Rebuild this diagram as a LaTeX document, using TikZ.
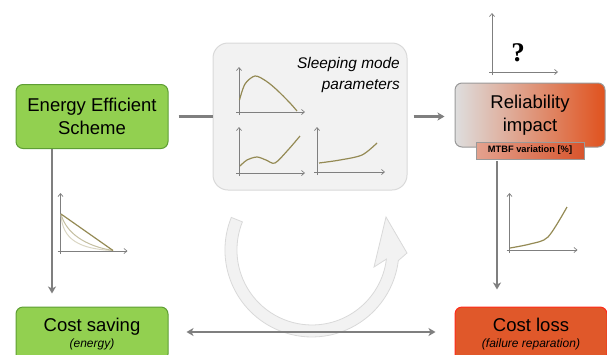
\documentclass[tikz,border=0pt]{standalone}
\usepackage{fontspec}
\setmainfont{Liberation Sans}
\newfontfamily\qmarkfont{Liberation Serif}
\usetikzlibrary{arrows.meta}
\definecolor{leafgreen}{HTML}{92D050}
\definecolor{leafedge}{HTML}{5E9E34}
\definecolor{brick}{HTML}{E0582A}
\definecolor{brickedge}{HTML}{FF2A1A}
\definecolor{linkgray}{HTML}{7F7F7F}
\definecolor{plotline}{HTML}{948A54}
\definecolor{panel}{HTML}{F2F2F2}
\definecolor{paneledge}{HTML}{D9D9D9}
\definecolor{relleft}{HTML}{DEDEDE}
\definecolor{relright}{HTML}{E0521E}
\definecolor{mtbfleft}{HTML}{E3A28F}
\definecolor{mtbfright}{HTML}{D8542C}
\newcommand{\smallnote}{\fontsize{12}{14}\selectfont\itshape}
\newcommand{\miniaxes}[4]{% origin x, origin y, width, height
  \draw[axis] (#1,{#2+3}) -- (#1,{#2-#4});
  \draw[axis] ({#1-3},#2) -- ({#1+#3},#2);}

\begin{document}
\begin{tikzpicture}[
  x=1pt,y=-1pt,>={Stealth[length=7pt,width=8pt,inset=2pt]},
  box/.style={draw,line width=1pt,rounded corners=7pt,align=center,
    font=\fontsize{18.5}{23}\selectfont,inner sep=2pt},
  greenbox/.style={box,fill=leafgreen,draw=leafedge,minimum width=152pt,minimum height=64pt},
  footbox/.style={box,minimum width=152pt,minimum height=54pt,font=\fontsize{18.5}{16}\selectfont},
  relbox/.style={box,draw=linkgray!80,left color=relleft,right color=relright,
    minimum width=150pt,minimum height=64pt},
  mtbfbox/.style={draw=linkgray!80,line width=0.8pt,left color=mtbfleft,right color=mtbfright,
    minimum width=108pt,minimum height=17pt,inner sep=0pt,font=\fontsize{9.3}{11}\selectfont\bfseries},
  panelbox/.style={draw=paneledge,fill=panel,line width=1pt,rounded corners=15pt,
    minimum width=194pt,minimum height=147pt},
  link/.style={draw=linkgray,line width=2.1pt},
  axis/.style={draw=linkgray,line width=0.7pt,-{Straight Barb[length=3pt,width=5pt]}},
  curve/.style={draw=plotline,line width=1.2pt},
  faint/.style={draw=plotline!35,line width=1pt},
  cyclearrow/.style={draw=paneledge,fill=panel,line width=0.8pt}
]
\useasboundingbox (0,0) rectangle (607,354);
\clip (0,0) rectangle (607,354);

% boxes
\node[greenbox] (ees) at (92,116.5) {Energy Efficient\\Scheme};
\node[panelbox] (sleep) at (310,116.5) {};
\node[font=\fontsize{15.4}{21.5}\selectfont\itshape,align=right,anchor=north east,inner sep=0pt]
  (sleeptitle) at (400,57) {Sleeping mode\\parameters};
\node[relbox] (rel) at (530,115) {Reliability\\impact};
\node[mtbfbox] (mtbf) at (530,150.5) {MTBF variation [\%]};
\node[footbox,fill=leafgreen,draw=leafedge] (saving) at (92,334) {Cost saving\\{\smallnote(energy)}};
\node[footbox,fill=brick,draw=brickedge] (loss) at (531,334) {Cost loss\\{\smallnote(failure reparation)}};
\node[font=\qmarkfont\bfseries\fontsize{27}{30}\selectfont,inner sep=0pt] (qmark) at (518,53) {?};

% sleeping mode plots
\miniaxes{239}{112}{66}{45}
\draw[curve] plot[smooth] coordinates {(239.5,100) (245,84) (255,76) (266,81) (277,90) (290,103) (297,111)};
\miniaxes{239}{173}{66}{46}
\draw[curve] plot[smooth] coordinates {(240,166) (247,160) (257,157) (266,160) (275,163) (288,150) (300,136)};
\miniaxes{317}{172}{68}{45}
\draw[curve] plot[smooth] coordinates {(319,163) (340,160) (362,155) (377,143)};

% side plots
\miniaxes{492}{72}{66}{59}
\miniaxes{60.5}{251}{67}{58}
\draw[faint] (61,214) .. controls (62,240) and (80,249) .. (113,250.5);
\draw[faint,draw=plotline!55] (61,214) .. controls (66,233) and (85,246) .. (113,250.5);
\draw[curve] (61,214) -- (113,250.5);
\miniaxes{509.5}{250}{68}{57}
\draw[curve] plot[smooth] coordinates {(510,248) (530,244) (548,237) (567,207)};

% cycle
\draw[cyclearrow] (231.3,217.4) arc[start angle=202,end angle=7,radius=87]
  -- (407,253) -- (386,217) -- (374,267) -- (386.4,259.1)
  arc[start angle=7,end angle=202,radius=75] -- cycle;

% connectors
\draw[link,shorten <=10pt] (ees) -- (sleep);
\draw[link,->,shorten <=6pt,shorten >=10pt] (sleep.east) -- (sleep.east -| rel.west);
\draw[link,->,shorten >=13pt] ([xshift=-40pt]ees.south) -- ([xshift=-40pt]saving.north);
\draw[link,->,shorten <=2pt,shorten >=17pt] ([xshift=-33pt]mtbf.south) -- ([xshift=-34pt]loss.north);
\draw[link,<->,shorten <=18pt,shorten >=19pt] ([yshift=2pt]saving.east) -- ([yshift=2pt]loss.west);
\end{tikzpicture}
\end{document}
